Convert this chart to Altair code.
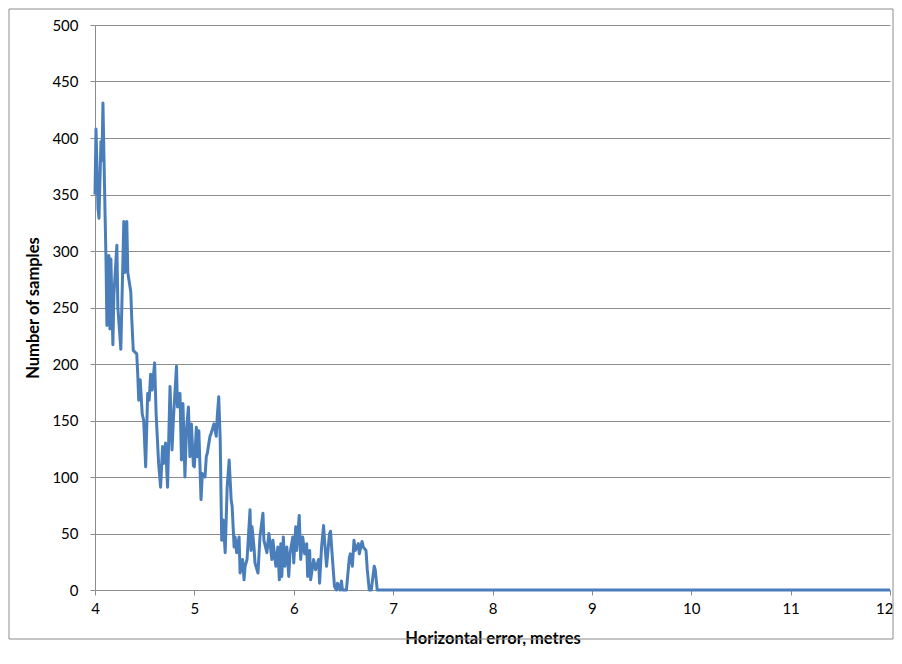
import altair as alt
import pandas as pd

x_err = [4.00, 4.01, 4.03, 4.04, 4.06, 4.07, 4.08, 4.10, 4.11, 4.12, 4.14, 4.15, 4.16, 4.18, 4.19,
         4.22, 4.23, 4.26, 4.29, 4.30, 4.32, 4.33, 4.36, 4.37, 4.385, 4.42, 4.43, 4.44, 4.455, 4.475,
         4.49, 4.51, 4.53, 4.545, 4.56, 4.575, 4.60, 4.615, 4.64, 4.66, 4.68, 4.69, 4.71, 4.73, 4.755,
         4.775, 4.79, 4.82, 4.83, 4.855, 4.87, 4.885, 4.905, 4.92, 4.94, 4.955, 4.97, 4.99, 5.00, 5.02,
         5.03, 5.045, 5.067, 5.08, 5.107, 5.12, 5.13, 5.157, 5.17, 5.197, 5.22, 5.23, 5.245, 5.26, 5.275,
         5.29, 5.31, 5.33, 5.35, 5.37, 5.38, 5.40, 5.41, 5.425, 5.45, 5.46, 5.485, 5.50, 5.51, 5.53,
         5.56, 5.57, 5.58, 5.60, 5.61, 5.64, 5.66, 5.69, 5.70, 5.73, 5.75, 5.78, 5.79, 5.82, 5.84,
         5.855, 5.87, 5.88, 5.895, 5.91, 5.93, 5.95, 5.962, 5.99, 6.00, 6.02, 6.03, 6.055, 6.07, 6.09,
         6.11, 6.13, 6.14, 6.16, 6.17, 6.20, 6.22, 6.25, 6.26, 6.28, 6.30, 6.31, 6.33, 6.36, 6.37,
         6.39, 6.41, 6.43, 6.44, 6.465, 6.48, 6.49, 6.53, 6.56, 6.57, 6.59, 6.606, 6.62, 6.65, 6.66,
         6.687, 6.70, 6.727, 6.74, 6.76, 6.78, 6.81, 6.82, 6.84, 12.00]
samples = [350, 408, 338, 329, 397, 380, 431, 338, 296, 234, 296, 231, 293, 217, 261,
           305, 250, 213, 326, 281, 326, 281, 264, 240, 212, 209, 191, 168, 186, 156,
           150, 109, 174, 168, 191, 177, 201, 156, 112, 91, 127, 112, 130, 91, 180,
           124, 153, 198, 162, 174, 115, 165, 100, 141, 162, 118, 147, 110, 109, 144,
           118, 141, 80, 103, 100, 118, 121, 136, 139, 147, 136, 153, 171, 133, 44,
           62, 33, 91, 115, 80, 74, 38, 47, 33, 47, 15, 27, 9, 21, 27,
           71, 35, 56, 38, 24, 15, 47, 68, 44, 33, 50, 27, 44, 21, 38,
           9, 41, 12, 47, 21, 38, 12, 32, 47, 24, 56, 35, 66, 27, 47,
           32, 41, 12, 35, 9, 27, 18, 27, 6, 38, 57, 44, 21, 50, 52,
           27, 3, 0, 6, 0, 8, 0, 0, 29, 32, 21, 44, 35, 41, 32,
           43, 38, 35, 18, 0, 0, 21, 18, 0, 0]

x_ticks = [4, 5, 6, 7, 8, 9, 10, 11, 12]
y_ticks = [0, 50, 100, 150, 200, 250, 300, 350, 400, 450, 500]

df = pd.DataFrame({"x": x_err, "y": samples})

FONT = "Lato"
GRID = "#8c8c8c"

line = alt.Chart(df).mark_line(color="#4A7EBB", strokeWidth=3, strokeJoin="round").encode(
    x=alt.X("x:Q",
            scale=alt.Scale(domain=[4, 12], nice=False, zero=False),
            axis=alt.Axis(values=x_ticks, title="Horizontal error, metres", grid=False,
                          tickSize=5, labelPadding=6, titlePadding=14, format="d",
                          labelFlush=False,
                          labelAlign=alt.expr("datum.value == 12 ? 'right' : 'center'"),
                          labelOffset=alt.expr("datum.value == 12 ? 3 : 0"))),
    y=alt.Y("y:Q",
            scale=alt.Scale(domain=[0, 500], nice=False),
            axis=alt.Axis(values=y_ticks, title="Number of samples", grid=True,
                          tickSize=5, labelPadding=12, titlePadding=10)),
)

border = alt.Chart(pd.DataFrame({"a": [0]})).mark_rect(
    fill=None, stroke="#8c8c8c", strokeWidth=1, clip=False
).encode(
    x=alt.value(-86), x2=alt.value(798), y=alt.value(-16), y2=alt.value(614)
)

chart = alt.layer(line, border).properties(
    width=795, height=565,
    autosize=alt.AutoSizeParams(type="none"),
    padding={"left": 87, "top": 17, "right": 4, "bottom": 56},
).configure_view(stroke=None).configure_axis(
    labelFont=FONT, titleFont=FONT, labelFontSize=15, titleFontSize=16.5,
    labelColor="#000000", titleColor="#000000", titleFontWeight="bold",
    domainColor=GRID, tickColor=GRID, gridColor=GRID, gridWidth=1, domainWidth=1,
)

chart.save("out.html", embed_options={"renderer": "svg", "actions": False})
